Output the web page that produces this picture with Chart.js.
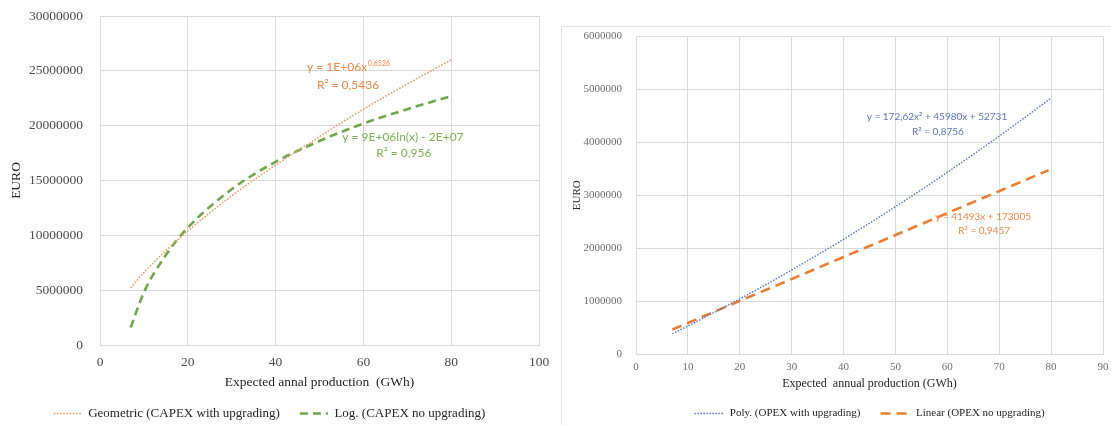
<!DOCTYPE html>
<html>
<head>
<meta charset="utf-8">
<script src="https://cdn.jsdelivr.net/npm/chart.js@4.4.1/dist/chart.umd.min.js"></script>
<style>
  body { margin: 0; width: 1111px; height: 425px; overflow: hidden; background: #fff; position: relative; }
  #capexBox { position: absolute; left: 0; top: 0; width: 550px; height: 430px; }
  #opexFrame { position: absolute; left: 561px; top: 26px; width: 600px; height: 450px;
               border-top: 1px solid #e3e3e3; border-left: 1px solid #e3e3e3; }
  #opexBox { position: absolute; left: 563px; top: 27px; width: 548px; height: 402px; }
</style>
</head>
<body>
<div id="capexBox"><canvas id="capex-chart"></canvas></div>
<div id="opexFrame"></div>
<div id="opexBox"><canvas id="opex-chart"></canvas></div>

<script>
// --- values ---
const capexX = [7, 10, 15, 20, 30, 40, 50, 60, 70, 80];
const capexGeometric = [5200000, 6600000, 8600000, 10400000, 13600000, 16400000, 19000000, 21500000, 23800000, 26000000];
const capexLog = [1600000, 4800000, 8200000, 10700000, 14200000, 16700000, 18600000, 20200000, 21500000, 22700000];
const capexXTicks = [0, 20, 40, 60, 80, 100];
const capexYTicks = [0, 5000000, 10000000, 15000000, 20000000, 25000000, 30000000];

const opexPolyX = [7, 10, 20, 30, 40, 50, 60, 70, 80];
const opexPoly = [383000, 530000, 1041000, 1587000, 2168000, 2783000, 3433000, 4117000, 4836000];
const opexLinearX = [7, 79.5];
const opexLinear = [463000, 3472000];
const opexXTicks = [0, 10, 20, 30, 40, 50, 60, 70, 80, 90];
const opexYTicks = [0, 1000000, 2000000, 3000000, 4000000, 5000000, 6000000];

// trendline equation texts, anchored in data space
const capexLabels = [
    { text: 'y = 1E+06x', sup: '0,6526', x: 56.5, y: 25300000, color: '#ee8747', size: 12 },
    { text: 'R² = 0,5436', x: 56.5, y: 23700000, color: '#ee8747', size: 12 },
    { text: 'y = 9E+06ln(x) - 2E+07', x: 69.0, y: 19000000, color: '#7cb357', size: 12 },
    { text: 'R² = 0,956', x: 69.2, y: 17500000, color: '#7cb357', size: 12 }
];
const opexLabels = [
    { text: 'y = 172,62x² + 45980x + 52731', x: 58.0, y: 4480000, color: '#5a78b8', size: 10 },
    { text: 'R² = 0,8756', x: 58.2, y: 4200000, color: '#5a78b8', size: 10 },
    { text: 'y = 41493x + 173005', x: 66.9, y: 2590000, color: '#ee8747', size: 10 },
    { text: 'R² = 0,9457', x: 67.1, y: 2330000, color: '#ee8747', size: 10 }
];

const toPoints = (xs, ys) => xs.map((x, i) => ({ x: x, y: ys[i] }));

const equationPlugin = {
    id: 'equations',
    afterDatasetsDraw(chart, args, opts) {
        const ctx = chart.ctx;
        const xs = chart.scales.x, ys = chart.scales.y;
        ctx.save();
        ctx.textBaseline = 'middle';
        ctx.textAlign = 'left';
        opts.items.forEach(item => {
            const px = xs.getPixelForValue(item.x);
            const py = ys.getPixelForValue(item.y);
            ctx.font = item.size + 'px Lato';
            const w1 = ctx.measureText(item.text).width;
            let w2 = 0;
            const supSize = Math.round(item.size * 0.6);
            if (item.sup) {
                ctx.font = supSize + 'px Lato';
                w2 = ctx.measureText(item.sup).width;
            }
            const start = px - (w1 + w2) / 2;
            ctx.fillStyle = item.color;
            ctx.font = item.size + 'px Lato';
            ctx.fillText(item.text, start, py);
            if (item.sup) {
                ctx.font = supSize + 'px Lato';
                ctx.fillText(item.sup, start + w1 + 1, py - item.size * 0.35);
            }
        });
        ctx.restore();
    }
};

// legend samples should keep the dataset's dash pattern
const dashedLegendLabels = chart =>
    Chart.defaults.plugins.legend.labels.generateLabels(chart).map(item => {
        const ds = chart.data.datasets[item.datasetIndex];
        item.lineDash = ds.borderDash;
        item.lineWidth = ds.borderWidth;
        item.strokeStyle = ds.borderColor;
        return item;
    });

const serif = 'Liberation Serif';
const gridColor = '#d9d9d9';

// label gaps come from invisible tick marks, so they don't add to the chart padding
function buildAxes(cfg) {
    return {
        x: {
            type: 'linear',
            min: cfg.xTicks[0],
            max: cfg.xTicks[cfg.xTicks.length - 1],
            afterBuildTicks: s => { s.ticks = cfg.xTicks.map(v => ({ value: v })); },
            afterFit: s => { s.height = cfg.xHeight; },
            grid: { color: gridColor, drawTicks: true, tickLength: cfg.xTickPad, tickColor: 'rgba(0,0,0,0)' },
            border: { color: gridColor },
            ticks: { color: cfg.tickColor, padding: 0, font: { family: serif, size: cfg.tickSize },
                     maxRotation: 0, callback: v => String(v) },
            title: { display: true, text: cfg.xTitle, color: '#262626',
                     font: { family: serif, size: cfg.xTitleSize }, padding: { top: 0, bottom: cfg.xTitlePad } }
        },
        y: {
            type: 'linear',
            min: cfg.yTicks[0],
            max: cfg.yTicks[cfg.yTicks.length - 1],
            afterBuildTicks: s => { s.ticks = cfg.yTicks.map(v => ({ value: v })); },
            afterFit: s => { s.width = cfg.yWidth; },
            grid: { color: gridColor, drawTicks: true, tickLength: cfg.yTickPad, tickColor: 'rgba(0,0,0,0)' },
            border: { color: gridColor },
            ticks: { color: cfg.tickColor, padding: 0, font: { family: serif, size: cfg.tickSize },
                     callback: v => String(v) },
            title: { display: true, text: 'EURO', color: '#262626',
                     font: { family: serif, size: cfg.yTitleSize }, padding: { top: cfg.yTitlePad, bottom: 0 } }
        }
    };
}

// CAPEX chart (left)
new Chart(document.getElementById('capex-chart').getContext('2d'), {
    type: 'line',
    data: {
        datasets: [{
            label: 'Geometric (CAPEX with upgrading)',
            data: toPoints(capexX, capexGeometric),
            borderColor: '#f29a68',
            backgroundColor: '#f29a68',
            borderWidth: 1.6,
            borderDash: [1.6, 1.6],
            pointRadius: 0,
            pointStyle: 'line',
            cubicInterpolationMode: 'monotone'
        }, {
            label: 'Log. (CAPEX no upgrading)',
            data: toPoints(capexX, capexLog),
            borderColor: '#6fa84a',
            backgroundColor: '#6fa84a',
            borderWidth: 2.6,
            borderDash: [8, 5],
            pointRadius: 0,
            pointStyle: 'line',
            cubicInterpolationMode: 'monotone'
        }]
    },
    options: {
        responsive: true,
        maintainAspectRatio: false,
        animation: false,
        layout: { padding: { top: 16, right: 11, left: 0, bottom: 0 } },
        scales: buildAxes({
            xTicks: capexXTicks, yTicks: capexYTicks, xHeight: 42, yWidth: 100,
            tickColor: '#4d4d4d', tickSize: 13.5, xTickPad: 9, yTickPad: 17,
            xTitle: 'Expected annal production  (GWh)', xTitleSize: 13.5, xTitlePad: -3.1,
            yTitleSize: 13.5, yTitlePad: 8
        }),
        plugins: {
            legend: {
                position: 'bottom',
                labels: { usePointStyle: true, pointStyleWidth: 28, padding: 20, color: '#262626',
                          font: { family: serif, size: 13 }, generateLabels: dashedLegendLabels }
            },
            tooltip: { enabled: false },
            equations: { items: capexLabels }
        }
    },
    plugins: [equationPlugin]
});

// OPEX chart (right)
new Chart(document.getElementById('opex-chart').getContext('2d'), {
    type: 'line',
    data: {
        datasets: [{
            label: 'Poly. (OPEX with upgrading)',
            data: toPoints(opexPolyX, opexPoly),
            borderColor: '#5b7cc4',
            backgroundColor: '#5b7cc4',
            borderWidth: 1.5,
            borderDash: [1.5, 1.5],
            pointRadius: 0,
            pointStyle: 'line',
            cubicInterpolationMode: 'monotone'
        }, {
            label: 'Linear (OPEX no upgrading)',
            data: toPoints(opexLinearX, opexLinear),
            borderColor: '#ed7d31',
            backgroundColor: '#ed7d31',
            borderWidth: 2.6,
            borderDash: [10, 6],
            pointRadius: 0,
            pointStyle: 'line'
        }]
    },
    options: {
        responsive: true,
        maintainAspectRatio: false,
        animation: false,
        layout: { padding: { top: 9.5, right: 8, left: 0, bottom: 0 } },
        scales: buildAxes({
            xTicks: opexXTicks, yTicks: opexYTicks, xHeight: 34, yWidth: 73,
            tickColor: '#6e6e6e', tickSize: 11, xTickPad: 6.4, yTickPad: 14,
            xTitle: 'Expected  annual production (GWh)', xTitleSize: 12, xTitlePad: -3.2,
            yTitleSize: 11, yTitlePad: 7.4
        }),
        plugins: {
            legend: {
                position: 'bottom',
                fullSize: false,
                labels: { usePointStyle: true, pointStyleWidth: 30, padding: 20, color: '#262626',
                          font: { family: serif, size: 11 }, generateLabels: dashedLegendLabels }
            },
            tooltip: { enabled: false },
            equations: { items: opexLabels }
        }
    },
    plugins: [equationPlugin]
});
</script>
</body>
</html>
